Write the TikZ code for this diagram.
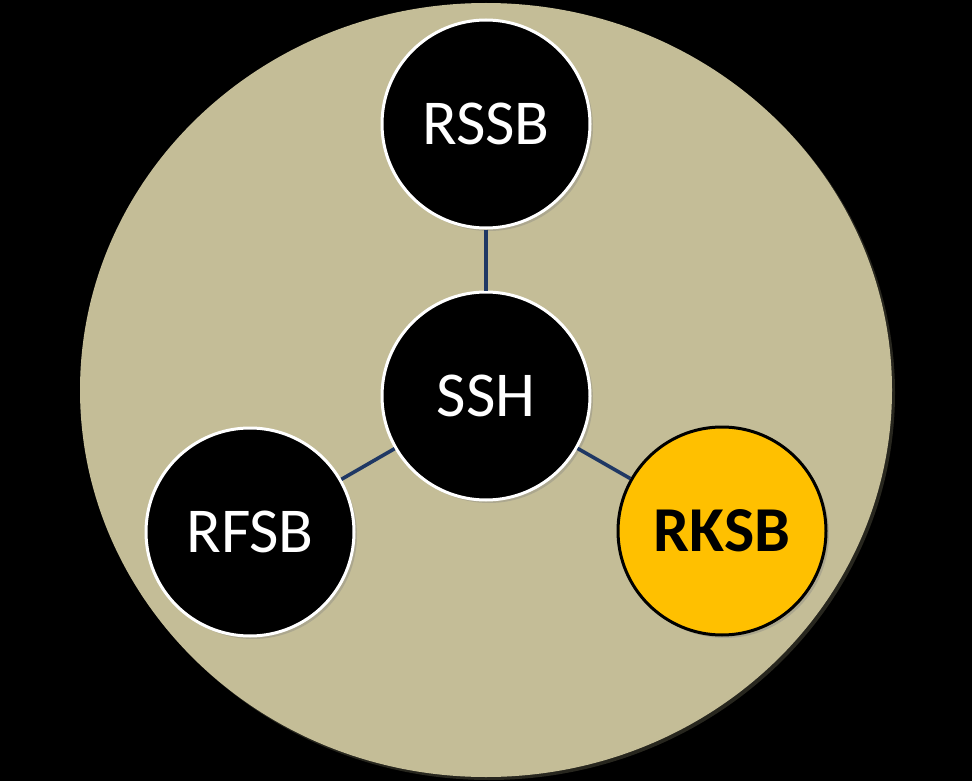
\documentclass[tikz,border=0pt]{standalone}
\usepackage{fontspec}
\setmainfont{Carlito}
\usetikzlibrary{shadows}
\definecolor{FieldTan}{HTML}{C4BD97}
\definecolor{KeyGold}{HTML}{FFC000}
\definecolor{LinkNavy}{HTML}{1F3864}

\begin{document}
\begin{tikzpicture}[
  x=1pt,y=-1pt,
  font=\fontsize{64}{64}\selectfont,
  unit/.style={circle,minimum size=208pt,inner sep=0pt,line width=3pt,
    draw=white,fill=black,text=white,
    drop shadow={shadow xshift=3pt,shadow yshift=-3pt,opacity=.35}},
  key/.style={unit,draw=black,fill=KeyGold,text=black,font=\fontsize{64}{64}\selectfont\bfseries},
  link/.style={draw=LinkNavy,line width=3.6pt},
]
% black page, tan field behind the four units
\fill[black] (0,0) rectangle (972,781);
\useasboundingbox (0,0) rectangle (972,781);
\fill[black!80!FieldTan] (489,393) ellipse [x radius=406pt,y radius=387pt];
\fill[FieldTan] (486,390) ellipse [x radius=406pt,y radius=387pt];

\node[unit] (rssb) at (486,124) {RSSB};
\node[unit] (ssh)  at (486,396) {SSH};
\node[unit] (rfsb) at (250,532) {RFSB};
\node[key]  (rksb) at (722,531) {RKSB};

\draw[link] (rssb) -- (ssh);
\draw[link] (ssh) -- (rfsb);
\draw[link] (ssh) -- (rksb);
\end{tikzpicture}
\end{document}
